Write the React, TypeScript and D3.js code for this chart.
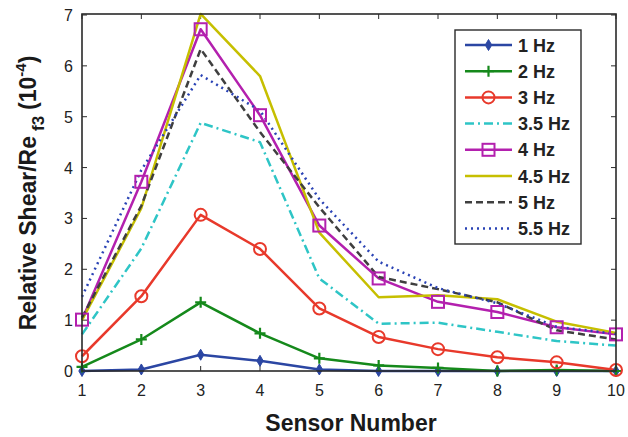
import React from 'react';
import * as d3 from 'd3';

const sensors = [1, 2, 3, 4, 5, 6, 7, 8, 9, 10];
const xTicks = [1, 2, 3, 4, 5, 6, 7, 8, 9, 10];
const yTicks = [0, 1, 2, 3, 4, 5, 6, 7];

const hz1 = [0.0, 0.03, 0.32, 0.2, 0.03, 0.0, 0.0, 0.0, 0.0, 0.0];
const hz2 = [0.08, 0.62, 1.35, 0.74, 0.25, 0.11, 0.06, 0.0, 0.02, 0.0];
const hz3 = [0.29, 1.47, 3.07, 2.4, 1.23, 0.67, 0.43, 0.27, 0.17, 0.02];
const hz35 = [0.72, 2.41, 4.88, 4.5, 1.82, 0.93, 0.95, 0.77, 0.59, 0.5];
const hz4 = [1.01, 3.72, 6.72, 5.03, 2.86, 1.82, 1.36, 1.16, 0.86, 0.72];
const hz45 = [1.0, 3.2, 7.02, 5.8, 2.72, 1.45, 1.49, 1.41, 0.97, 0.75];
const hz5 = [1.05, 3.25, 6.33, 4.7, 3.22, 1.85, 1.61, 1.35, 0.8, 0.62];
const hz55 = [1.46, 3.95, 5.82, 5.12, 3.38, 2.15, 1.63, 1.33, 0.87, 0.73];

const seriesNames = ['1 Hz', '2 Hz', '3 Hz', '3.5 Hz', '4 Hz', '4.5 Hz', '5 Hz', '5.5 Hz'];
const seriesValues = [hz1, hz2, hz3, hz35, hz4, hz45, hz5, hz55];
const seriesColors = ['#2b46a3', '#15891b', '#e8392b', '#2ec5c6', '#b320ae', '#c6bf00', '#3f3f3f', '#2a43b5'];
const seriesDash = [null, null, null, '9,4,2,4', null, null, '7,4', '2,4'];
const seriesMarker = ['diamond', 'plus', 'circle', null, 'square', null, null, null];

const W = 628;
const H = 437;
const margin = { left: 82, right: 12, top: 15, bottom: 66 };

const Marker = ({ kind, x, y, color }: { kind: string | null; x: number; y: number; color: string }) => {
  if (kind === 'diamond') {
    return (
      <g transform={`translate(${x},${y})`}>
        <path d="M0,-5.5L3.2,0L0,5.5L-3.2,0Z" fill={color} stroke={color} strokeWidth={1} />
      </g>
    );
  }
  if (kind === 'plus') {
    return (
      <path
        d={`M${x - 5.5},${y}H${x + 5.5}M${x},${y - 5.5}V${y + 5.5}`}
        stroke={color}
        strokeWidth={2.2}
        fill="none"
      />
    );
  }
  if (kind === 'circle') {
    return <circle cx={x} cy={y} r={6} fill="none" stroke={color} strokeWidth={2} />;
  }
  if (kind === 'square') {
    return <rect x={x - 6} y={y - 6} width={12} height={12} fill="none" stroke={color} strokeWidth={2} />;
  }
  return null;
};

export default function App() {
  const x = d3
    .scaleLinear()
    .domain([1, 10])
    .range([margin.left, W - margin.right]);
  const y = d3
    .scaleLinear()
    .domain([0, 7])
    .range([H - margin.bottom, margin.top]);

  const line = d3
    .line<number>()
    .x((d, i) => x(sensors[i]))
    .y((d) => y(d));

  const x0 = x(1);
  const x1 = x(10);
  const yB = y(0);
  const yT = y(7) - 1;
  const tickLen = 5;
  const axisColor = '#2a2a2a';

  // legend box
  const lx = 455;
  const ly = 30;
  const lw = 126;
  const lh = 214;
  const rowH = 26.2;

  return (
    <svg
      width={W}
      height={H}
      style={{ position: 'absolute', left: 0, top: 0, background: '#fff' }}
      fontFamily="'Liberation Sans', Arial, sans-serif"
    >
      <rect x={0} y={0} width={W} height={H} fill="#fff" />

      {/* ticks inside box */}
      {xTicks.map((t) => (
        <g key={'xt' + t}>
          <line x1={x(t)} x2={x(t)} y1={yB} y2={yB - tickLen} stroke={axisColor} strokeWidth={1} />
          <line x1={x(t)} x2={x(t)} y1={yT} y2={yT + tickLen} stroke={axisColor} strokeWidth={1} />
          <text x={x(t)} y={yB + 25} textAnchor="middle" fontSize={16} fill="#222">
            {t}
          </text>
        </g>
      ))}
      {yTicks.map((t) => (
        <g key={'yt' + t}>
          <line x1={x0} x2={x0 + tickLen} y1={y(t)} y2={y(t)} stroke={axisColor} strokeWidth={1} />
          <line x1={x1} x2={x1 - tickLen} y1={y(t)} y2={y(t)} stroke={axisColor} strokeWidth={1} />
          <text x={x0 - 9} y={y(t) + 6} textAnchor="end" fontSize={16} fill="#222">
            {t}
          </text>
        </g>
      ))}

      {/* series lines */}
      {seriesValues.map((vals, si) => (
        <path
          key={'s' + si}
          d={line(vals) || ''}
          fill="none"
          stroke={seriesColors[si]}
          strokeWidth={2.5}
          strokeDasharray={seriesDash[si] || undefined}
          strokeLinejoin="round"
        />
      ))}
      {seriesValues.map((vals, si) =>
        seriesMarker[si]
          ? vals.map((v, i) => (
              <Marker key={'m' + si + '-' + i} kind={seriesMarker[si]} x={x(sensors[i])} y={y(v)} color={seriesColors[si]} />
            ))
          : null
      )}

      {/* box */}
      <rect x={x0} y={yT} width={x1 - x0} height={yB - yT} fill="none" stroke={axisColor} strokeWidth={1.6} />

      {/* legend */}
      <rect x={lx} y={ly} width={lw} height={lh} fill="#fff" stroke={axisColor} strokeWidth={1.4} />
      {seriesNames.map((name, i) => {
        const cy = ly + 15 + i * rowH;
        return (
          <g key={'lg' + i}>
            <line
              x1={lx + 10}
              x2={lx + 57}
              y1={cy}
              y2={cy}
              stroke={seriesColors[i]}
              strokeWidth={2.5}
              strokeDasharray={seriesDash[i] || undefined}
            />
            <Marker kind={seriesMarker[i]} x={lx + 33.5} y={cy} color={seriesColors[i]} />
            <text x={lx + 63} y={cy + 6.5} fontSize={18} fontWeight="bold" fill="#222">
              {name}
            </text>
          </g>
        );
      })}

      {/* axis titles */}
      <text x={351} y={431} textAnchor="middle" fontSize={23} fontWeight="bold" fill="#1a1a1a">
        Sensor Number
      </text>
      <text
        transform="translate(36,193) rotate(-90)"
        textAnchor="middle"
        fontSize={23}
        fontWeight="bold"
        fill="#1a1a1a"
      >
        Relative Shear/Re
        <tspan fontSize={17} dy={8} dx={5}>
          f3
        </tspan>
        <tspan dy={-8} dx={6}>
          (10
        </tspan>
        <tspan fontSize={15} dy={-10}>
          -4
        </tspan>
        <tspan dy={10}>)</tspan>
      </text>
    </svg>
  );
}
